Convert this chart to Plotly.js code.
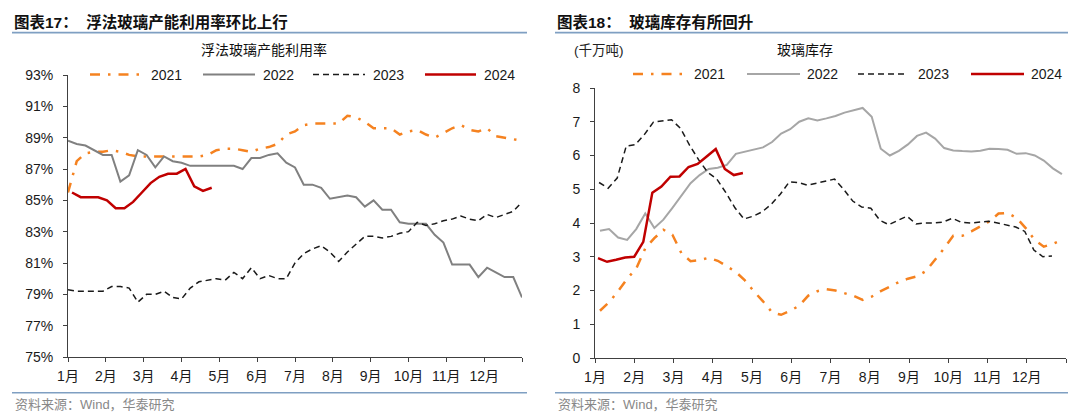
<!DOCTYPE html>
<html>
<head>
<meta charset="utf-8">
<script src="https://cdn.plot.ly/plotly-3.0.1.min.js"></script>
<style>html,body{margin:0;padding:0;background:#fff;}#chart{width:1080px;height:420px;}</style>
</head>
<body>
<div id="chart"></div>
<script>
// ---------- data ----------
const monthLabels = ['1月','2月','3月','4月','5月','6月','7月','8月','9月','10月','11月','12月'];
const seriesNames = ['2021','2022','2023','2024'];

// 浮法玻璃产能利用率 (%), weekly
const util2021 = [85.5,87.5,88.0,88.1,88.1,88.2,88.1,87.9,87.8,87.8,87.8,87.8,87.8,87.8,87.8,87.8,87.9,88.2,88.3,88.3,88.2,88.1,88.3,88.4,88.6,89.2,89.4,89.8,89.9,89.9,89.9,89.9,90.4,90.3,90.0,89.6,89.6,89.6,89.2,89.4,89.5,89.2,89.0,89.3,89.6,89.8,89.5,89.4,89.6,89.1,89.0,88.9,88.8];
const util2022 = [88.8,88.6,88.5,88.2,87.9,87.9,86.2,86.6,88.2,87.9,87.1,87.8,87.5,87.4,87.2,87.2,87.2,87.2,87.2,87.2,87.0,87.7,87.7,87.9,88.0,87.4,87.1,86.0,86.0,85.8,85.1,85.2,85.3,85.2,84.6,85.0,84.4,84.4,83.6,83.5,83.5,83.5,82.8,82.3,80.9,80.9,80.9,80.1,80.7,80.4,80.1,80.1,78.8];
const util2023 = [79.3,79.2,79.2,79.2,79.2,79.5,79.5,79.4,78.5,79.0,79.0,79.2,78.8,78.7,79.4,79.8,79.9,80.0,79.9,80.4,80.0,80.7,80.0,80.2,80.0,80.0,81.0,81.6,81.9,82.1,81.7,81.1,81.7,82.2,82.7,82.7,82.6,82.7,82.9,83.0,83.6,83.4,83.5,83.7,83.8,84.0,83.8,83.7,84.1,83.9,84.1,84.3,84.9];
const util2024 = [85.5,85.2,85.2,85.2,85.0,84.5,84.5,84.9,85.5,86.1,86.5,86.7,86.7,87.0,85.9,85.6,85.8];

// 玻璃库存 (千万吨), weekly
const inv2021 = [1.40,1.65,1.98,2.35,2.65,3.25,3.55,3.80,3.65,3.10,2.87,2.90,2.97,2.88,2.72,2.55,2.30,1.97,1.68,1.35,1.28,1.40,1.55,1.85,1.98,2.04,2.00,1.92,1.84,1.72,1.82,1.98,2.12,2.25,2.35,2.42,2.58,2.90,3.25,3.62,3.62,3.75,3.90,4.05,4.28,4.30,4.15,3.85,3.50,3.30,3.38,3.50];
const inv2022 = [3.77,3.82,3.57,3.50,3.82,4.28,3.85,4.10,4.45,4.82,5.18,5.42,5.60,5.64,5.72,6.05,6.12,6.18,6.24,6.40,6.65,6.78,7.00,7.10,7.04,7.10,7.17,7.27,7.34,7.41,7.15,6.20,6.00,6.14,6.33,6.58,6.68,6.50,6.22,6.15,6.13,6.12,6.14,6.20,6.19,6.17,6.05,6.07,6.00,5.85,5.62,5.45];
const inv2023 = [5.20,5.03,5.33,6.28,6.32,6.62,6.99,7.02,7.06,6.80,6.30,5.87,5.50,5.30,4.90,4.45,4.12,4.20,4.33,4.55,4.85,5.22,5.20,5.12,5.18,5.25,5.30,5.00,4.65,4.47,4.44,4.08,3.95,4.08,4.20,3.97,4.00,4.00,4.03,4.14,4.02,4.00,4.02,4.05,4.00,3.94,3.88,3.75,3.20,3.00,3.02];
const inv2024 = [2.96,2.85,2.91,2.98,3.00,3.44,4.90,5.08,5.37,5.38,5.66,5.75,5.97,6.19,5.60,5.42,5.48];

// ---------- styling ----------
const W = 1080, H = 420;
const FONT = 'Liberation Sans, Arial, Noto Sans CJK SC, sans-serif';
const CJK = 'Liberation Sans, Noto Sans CJK SC, sans-serif';
const colors = {c2021:'#F58220', c2022L:'#808080', c2022R:'#A6A6A6', c2023:'#1A1A1A', c2024:'#C00000'};
const dashes = {d2021:'10px,8px,2.5px,8px', d2023:'6px,4px'};
const weeksPerYear = 52;
const monthTicks = Array.from({length:13}, (_, i) => i * weeksPerYear / 12);
const tickText = monthLabels.concat(['']);

const wk = (arr, off) => arr.map((_, i) => i + off);
const px = v => v / W;
const py = v => 1 - v / H;

const traces = [
  {x: wk(util2021,0), y: util2021, xaxis:'x', yaxis:'y', mode:'lines', line:{color:colors.c2021, width:2.5, dash:dashes.d2021}},
  {x: wk(util2022,0), y: util2022, xaxis:'x', yaxis:'y', mode:'lines', line:{color:colors.c2022L, width:2}},
  {x: wk(util2023,0), y: util2023, xaxis:'x', yaxis:'y', mode:'lines', line:{color:colors.c2023, width:1.5, dash:dashes.d2023}},
  {x: wk(util2024,0.46), y: util2024, xaxis:'x', yaxis:'y', mode:'lines', line:{color:colors.c2024, width:2.5}},
  {x: wk(inv2021,0.55), y: inv2021, xaxis:'x2', yaxis:'y2', mode:'lines', line:{color:colors.c2021, width:2.5, dash:dashes.d2021}},
  {x: wk(inv2022,0.55), y: inv2022, xaxis:'x2', yaxis:'y2', mode:'lines', line:{color:colors.c2022R, width:2}},
  {x: wk(inv2023,0.45), y: inv2023, xaxis:'x2', yaxis:'y2', mode:'lines', line:{color:colors.c2023, width:1.5, dash:dashes.d2023}},
  {x: wk(inv2024,0.33), y: inv2024, xaxis:'x2', yaxis:'y2', mode:'lines', line:{color:colors.c2024, width:2.5}}
].map((t, i) => Object.assign(t, {name: seriesNames[i % 4], showlegend:false, hoverinfo:'skip'}));

const axisCommon = {
  showline:true, linecolor:'#404040', linewidth:1, ticks:'outside', ticklen:4, tickcolor:'#404040',
  showgrid:false, zeroline:false, tickfont:{family:CJK, size:14, color:'#1a1a1a'}, fixedrange:true
};

const layout = {
  width:W, height:H, margin:{l:0,r:0,t:0,b:0}, paper_bgcolor:'#fff', plot_bgcolor:'rgba(0,0,0,0)',
  showlegend:false, font:{family:FONT},
  xaxis: Object.assign({}, axisCommon, {domain:[px(68), px(522)], range:[0,52], tickmode:'array', tickvals:monthTicks, ticktext:tickText, anchor:'y', ticklabelstandoff:2}),
  yaxis: Object.assign({}, axisCommon, {domain:[py(357), py(75)], range:[75,93], tick0:75, dtick:2, ticksuffix:'%', anchor:'x', ticklabelstandoff:7}),
  xaxis2: Object.assign({}, axisCommon, {domain:[px(595), px(1066)], range:[0,52], tickmode:'array', tickvals:monthTicks, ticktext:tickText, anchor:'y2', ticklabelstandoff:2}),
  yaxis2: Object.assign({}, axisCommon, {domain:[py(358), py(88)], range:[0,8], tick0:0, dtick:1, anchor:'x2', ticklabelstandoff:7}),
  shapes: [], annotations: []
};

// header / footer rules
const ruleColor = '#7F9FC2';
[[12,527],[555,1068]].forEach(([a,b]) => {
  layout.shapes.push({type:'line', xref:'paper', yref:'paper', x0:px(a), x1:px(b), y0:py(32.7), y1:py(32.7), line:{color:ruleColor, width:1.8}});
  layout.shapes.push({type:'line', xref:'paper', yref:'paper', x0:px(a), x1:px(b), y0:py(392.7), y1:py(392.7), line:{color:ruleColor, width:1.5}});
});

function ann(text, x, y, opts) {
  layout.annotations.push(Object.assign({text:text, xref:'paper', yref:'paper', x:px(x), y:py(y), showarrow:false, xanchor:'left', yanchor:'middle', font:{family:CJK, size:13, color:'#1a1a1a'}}, opts || {}));
}

// titles
ann('<b>图表17：  浮法玻璃产能利用率环比上行</b>', 12, 22, {font:{family:CJK, size:15.5, color:'#111'}});
ann('<b>图表18：  玻璃库存有所回升</b>', 555, 22, {font:{family:CJK, size:15.5, color:'#111'}});
ann('浮法玻璃产能利用率', 264, 50, {xanchor:'center', font:{family:CJK, size:14, color:'#111'}});
ann('玻璃库存', 805, 50, {xanchor:'center', font:{family:CJK, size:14, color:'#111'}});
ann('(千万吨)', 572, 50, {font:{family:CJK, size:13.5, color:'#222'}});
ann('资料来源：Wind，华泰研究', 13, 404, {font:{family:CJK, size:13, color:'#888'}});
ann('资料来源：Wind，华泰研究', 556, 404, {font:{family:CJK, size:13, color:'#888'}});

// custom legends
function legend(items, y) {
  items.forEach(it => {
    layout.shapes.push({type:'line', xref:'paper', yref:'paper', x0:px(it.x0), x1:px(it.x1), y0:py(y), y1:py(y), line:{color:it.color, width:it.width, dash:it.dash || 'solid'}});
    ann(it.name, it.tx, y, {font:{family:FONT, size:14, color:'#1a1a1a'}});
  });
}
legend([
  {name:seriesNames[0], x0:90, x1:140, tx:149, color:colors.c2021, width:2.5, dash:dashes.d2021},
  {name:seriesNames[1], x0:203, x1:255, tx:261, color:colors.c2022L, width:2},
  {name:seriesNames[2], x0:313, x1:365, tx:371, color:colors.c2023, width:1.5, dash:dashes.d2023},
  {name:seriesNames[3], x0:425, x1:476, tx:482, color:colors.c2024, width:2.5}
], 74.5);
legend([
  {name:seriesNames[0], x0:633, x1:683, tx:692, color:colors.c2021, width:2.5, dash:dashes.d2021},
  {name:seriesNames[1], x0:747, x1:800, tx:805, color:colors.c2022R, width:2},
  {name:seriesNames[2], x0:858, x1:908, tx:916, color:colors.c2023, width:1.5, dash:dashes.d2023},
  {name:seriesNames[3], x0:971, x1:1024, tx:1029, color:colors.c2024, width:2.5}
], 74);

Plotly.newPlot('chart', traces, layout, {staticPlot:true, displayModeBar:false});
</script>
</body>
</html>
